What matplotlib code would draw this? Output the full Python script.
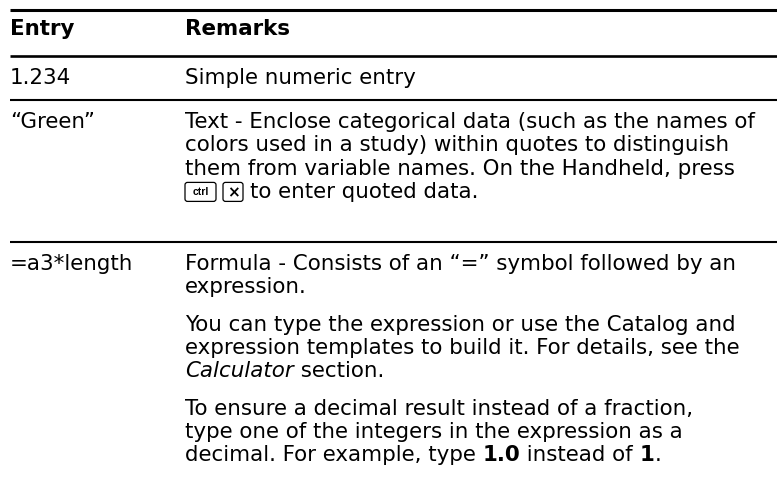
import matplotlib
matplotlib.use("Agg")
import matplotlib.pyplot as plt
from matplotlib.patches import FancyBboxPatch

W, H = 777, 503
FONT = "DejaVu Sans"

headers = ["Entry", "Remarks"]
entries = ["1.234", "\u201cGreen\u201d", "=a3*length"]

# each remark line is a list of (text, style) runs; None marks a paragraph gap
remarks = [
    [[("Simple numeric entry", "normal")]],
    [
        [("Text - Enclose categorical data (such as the names of", "normal")],
        [("colors used in a study) within quotes to distinguish", "normal")],
        [("them from variable names. On the Handheld, press", "normal")],
        [("KEY:ctrl", "key"), ("KEY:\u00d7", "key"), ("to enter quoted data.", "normal")],
    ],
    [
        [("Formula - Consists of an \u201c=\u201d symbol followed by an", "normal")],
        [("expression.", "normal")],
        None,
        [("You can type the expression or use the Catalog and", "normal")],
        [("expression templates to build it. For details, see the", "normal")],
        [("Calculator", "italic"), (" section.", "normal")],
        None,
        [("To ensure a decimal result instead of a fraction,", "normal")],
        [("type one of the integers in the expression as a", "normal")],
        [("decimal. For example, type ", "normal"), ("1.0", "bold"),
         (" instead of ", "normal"), ("1", "bold"), (".", "normal")],
    ],
]

# layout (pixels, y down)
COL_X = [10, 185]
RULE_TOP = 10
RULE_HEAD = 56
ROW_TOPS = [56, 100, 242]
HEAD_BASE = 35
FIRST = 28
LINE = 23.3
PARA = 14
TARGET_W = 572  # width of the first "Text - Enclose ..." line

fig = plt.figure(figsize=(W / 100, H / 100), dpi=100)
ax = fig.add_axes([0, 0, 1, 1])
ax.set_xlim(0, W)
ax.set_ylim(H, 0)
ax.axis("off")
fig.canvas.draw()
renderer = fig.canvas.get_renderer()

# pick the font size so the long remark line spans the same width
probe = ax.text(0, 0, remarks[1][0][0][0], fontsize=10, family=FONT)
SIZE = 10 * TARGET_W / probe.get_window_extent(renderer).width
probe.remove()


def rule(y, lw):
    ax.plot([COL_X[0], W], [y, y], color="black", lw=lw, solid_capstyle="butt")


def draw_key(x, y, label):
    small = label == "ctrl"
    w = 31 if small else 20
    h = 19
    ax.add_patch(FancyBboxPatch((x, y - h / 2), w, h,
                                boxstyle="round,pad=0,rounding_size=2.5",
                                fc="white", ec="black", lw=0.9))
    ax.text(x + w / 2, y + 0.5, label, ha="center", va="center",
            fontsize=7.5 if small else 11, fontweight="bold",
            family="Liberation Sans" if small else "DejaVu Sans")
    return x + w + 7


def draw_runs(x, base, runs):
    for text, style in runs:
        if style == "key":
            x = draw_key(x, base - 6, text[4:])
            continue
        t = ax.text(x, base, text, va="baseline", fontsize=SIZE, family=FONT,
                    fontweight="bold" if style == "bold" else "normal",
                    fontstyle="italic" if style == "italic" else "normal")
        x += t.get_window_extent(renderer).width


rule(RULE_TOP, 2.2)
for hx, label in zip(COL_X, headers):
    ax.text(hx, HEAD_BASE, label, fontsize=SIZE, family=FONT, fontweight="bold",
            va="baseline")
rule(RULE_HEAD, 1.9)

for i, (entry, lines) in enumerate(zip(entries, remarks)):
    top = ROW_TOPS[i]
    if i > 0:
        rule(top, 1.5)
    base = top + FIRST
    ax.text(COL_X[0], base, entry, fontsize=SIZE, family=FONT, va="baseline")
    for ln in lines:
        if ln is None:
            base += PARA
            continue
        draw_runs(COL_X[1], base, ln)
        base += LINE

fig.savefig("out.png", dpi=100)
